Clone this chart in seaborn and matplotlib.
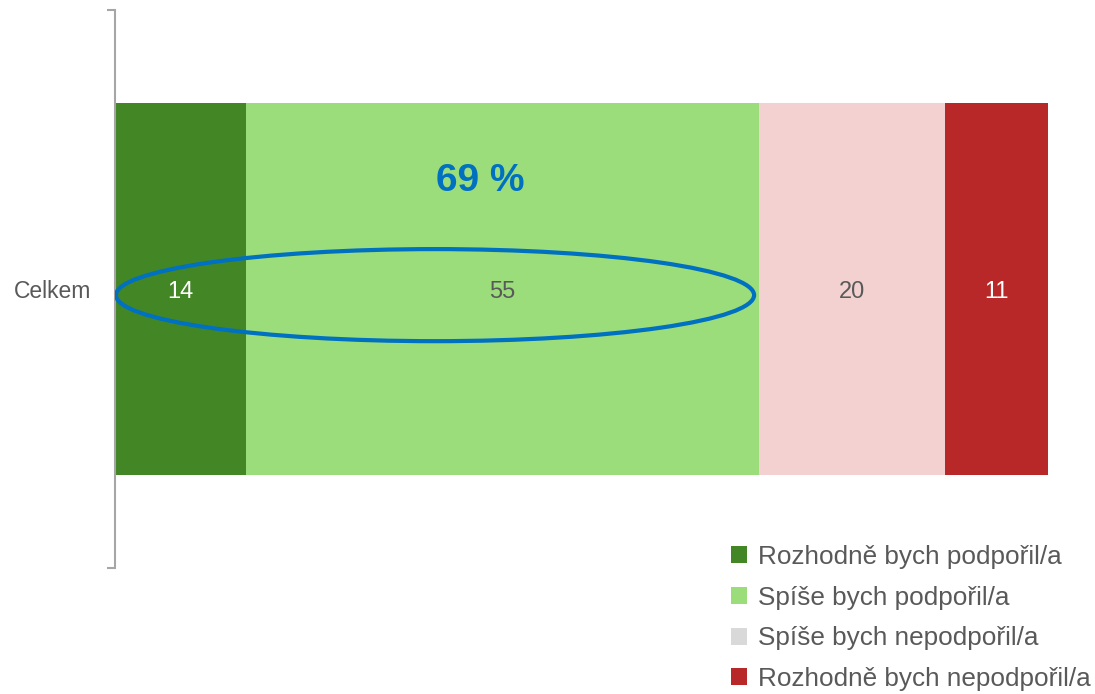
import matplotlib
matplotlib.use("Agg")
import matplotlib.pyplot as plt
from matplotlib.patches import Ellipse, Patch
import seaborn as sns
import pandas as pd
import numpy as np

categories = ["Celkem"]
series_names = ["Rozhodně bych podpořil/a", "Spíše bych podpořil/a",
                "Spíše bych nepodpořil/a", "Rozhodně bych nepodpořil/a"]
values = [14, 55, 20, 11]
bar_colors = ["#438626", "#9bdc7b", "#f3d1d1", "#b92828"]
legend_colors = ["#438626", "#9bdc7b", "#d9d9d9", "#b92828"]
label_colors = ["white", "#595959", "#595959", "white"]
support_label = "69 %"

sns.set_theme(style="white")
plt.rcParams["font.family"] = ["Liberation Sans", "DejaVu Sans"]

fig = plt.figure(figsize=(10.95, 6.94), dpi=100)
ax = fig.add_axes([115 / 1095, (694 - 568) / 694, 933 / 1095, 558 / 694])

cum = np.cumsum(values)
for i in reversed(range(len(values))):
    df = pd.DataFrame({"cat": categories, "val": [cum[i]]})
    sns.barplot(data=df, x="val", y="cat", color=bar_colors[i], width=0.665,
                saturation=1, ax=ax, orient="h", zorder=2, linewidth=0, edgecolor="none")

ax.set_xlim(0, 100)
ax.set_ylim(0.5, -0.5)
ax.set_xlabel("")
ax.set_ylabel("")
ax.set_xticks([])

# segment labels
starts = cum - np.array(values)
for v, s, c in zip(values, starts, label_colors):
    ax.text(s + v / 2, 0.005, str(v), ha="center", va="center", color=c, fontsize=17, zorder=5)

# ellipse around support
support = values[0] + values[1]
ell = Ellipse((support / 2 - 0.2, 0.011), width=support - 0.6, height=0.165,
              fill=False, edgecolor="#0070c0", linewidth=3, zorder=6)
ax.add_patch(ell)
ax.text(39.1, -0.193, support_label, ha="center", va="center", color="#0070c0",
        fontsize=28, fontweight="bold", zorder=6)

# spines
for s in ["top", "right", "bottom"]:
    ax.spines[s].set_visible(False)
ax.spines["left"].set_color("#a6a6a6")
ax.spines["left"].set_linewidth(1.5)
ax.set_yticks([0])
ax.set_yticklabels(categories)
ax.tick_params(axis="y", which="major", length=0, pad=17, labelsize=16.5, labelcolor="#595959")
ax.set_yticks([-0.5, 0.5], minor=True)
ax.tick_params(axis="y", which="minor", length=6, width=1.5, color="#a6a6a6", left=True)

handles = [Patch(facecolor=c, edgecolor="none") for c in legend_colors]
fig.legend(handles, series_names, loc="upper left", bbox_to_anchor=(731 / 1095, 1 - 545 / 694),
           frameon=False, fontsize=18.8, labelcolor="#595959", handlelength=0.62, handleheight=0.62,
           handletextpad=0.42, labelspacing=0.64, borderpad=0, borderaxespad=0)

fig.savefig("out.png", dpi=100)
